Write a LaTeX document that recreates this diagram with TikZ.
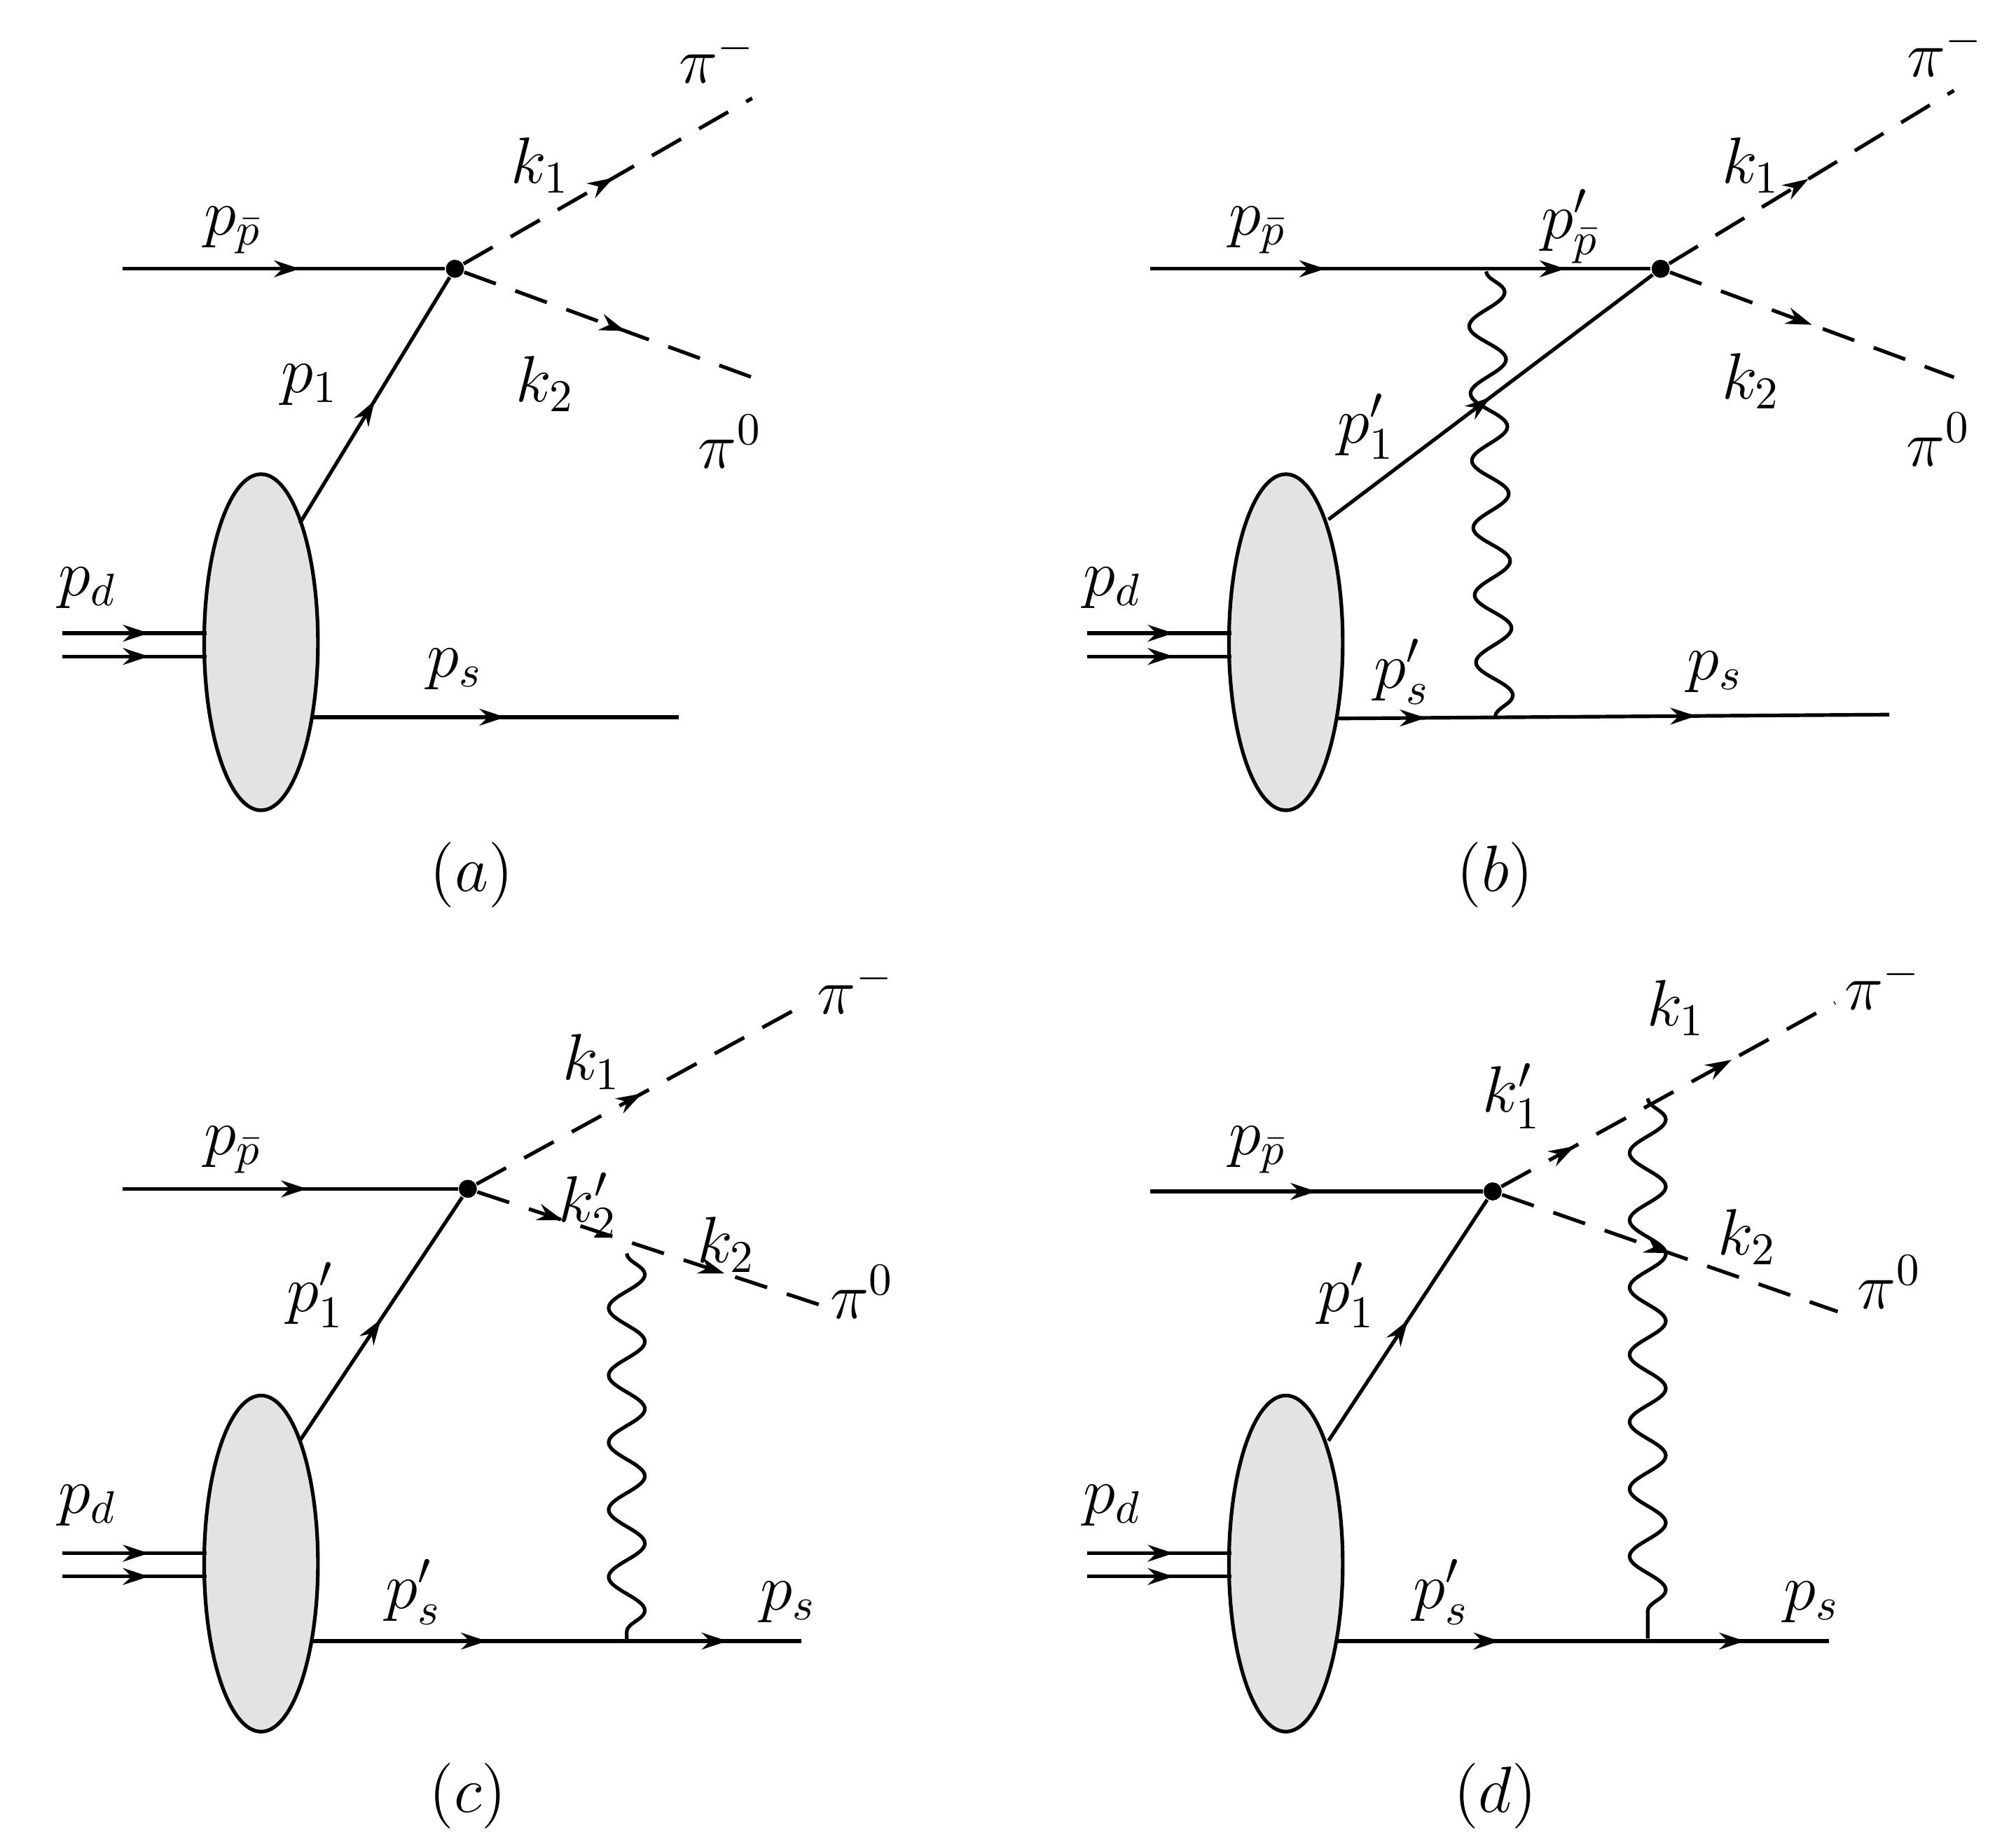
\documentclass[tikz,border=0pt]{standalone}
\usepackage{amsmath}
\usetikzlibrary{arrows.meta,decorations.markings,decorations.pathmorphing,shapes.geometric}
\tikzset{
  prop/.style={thick},
  scal/.style={thick, dash pattern=on 0.26cm off 0.16cm},
  phot/.style={thick, decorate, decoration={snake, amplitude=0.14cm, segment length=0.52cm}},
  blob/.style={draw, thick, ellipse, fill=gray!22, minimum width=0.88cm, minimum height=2.6cm, inner sep=0pt},
  vtx/.style={circle, fill=black, inner sep=0pt, minimum size=0.14cm},
  lbl/.style={font=\fontsize{14}{16}\selectfont},
  ar/.style={postaction={decorate}, decoration={markings, mark=at position #1 with {\arrow{Stealth[length=0.2cm,width=0.13cm]}}}},
  arr/.style 2 args={postaction={decorate}, decoration={markings,
      mark=at position #1 with {\arrow{Stealth[length=0.2cm,width=0.13cm]}},
      mark=at position #2 with {\arrow{Stealth[length=0.2cm,width=0.13cm]}}}},
}
\begin{document}
\begin{tikzpicture}[x=0.01cm, y=-0.01cm]
  \useasboundingbox (0,0) rectangle (1560,1429);

  % (a)
  \node[blob] (blobA) at (202,497) {};
  \coordinate (inA) at (95,208);
  \node[vtx] (vA) at (352,208) {};
  \coordinate (piMA) at (582,76);
  \coordinate (piZA) at (582,292);
  \coordinate (oA) at (232,405);
  \coordinate (dA1) at (48,490); \coordinate (eA1) at (160,490);
  \coordinate (dA2) at (48,508); \coordinate (eA2) at (160,508);
  \coordinate (sA) at (240,555); \coordinate (fA) at (525,555);
  \draw[prop, ar=0.55] (inA) -- (vA);
  \draw[scal, ar=0.52] (vA) -- (piMA);
  \draw[scal, ar=0.56] (vA) -- (piZA);
  \draw[prop, ar=0.5] (oA) -- (vA);
  \draw[prop, ar=0.6] (dA1) -- (eA1);
  \draw[prop, ar=0.6] (dA2) -- (eA2);
  \draw[prop, ar=0.53] (sA) -- (fA);
  \node[lbl] at (180,178) {$p_{\bar p}$};
  \node[lbl] at (418,128) {$k_1$};
  \node[lbl] at (555,45) {$\pi^-$};
  \node[lbl] at (422,297) {$k_2$};
  \node[lbl] at (565,342) {$\pi^0$};
  \node[lbl] at (240,298) {$p_1$};
  \node[lbl] at (68,455) {$p_d$};
  \node[lbl] at (352,518) {$p_s$};
  \node[lbl] at (365,677) {$(a)$};

  % (b)
  \node[blob] (blobB) at (995,497) {};
  \coordinate (inB) at (890,208);
  \node[vtx] (vB) at (1285,208) {};
  \coordinate (piMB) at (1512,70);
  \coordinate (piZB) at (1512,292);
  \coordinate (oB) at (1028,402);
  \coordinate (dB1) at (841,490); \coordinate (eB1) at (953,490);
  \coordinate (dB2) at (841,508); \coordinate (eB2) at (953,508);
  \coordinate (sB) at (1035,556); \coordinate (fB) at (1462,553);
  \coordinate (wB1) at (1150,210); \coordinate (wB2) at (1157,555);
  \draw[prop, arr={0.35}{0.83}] (inB) -- (vB);
  \draw[scal, ar=0.49] (vB) -- (piMB);
  \draw[scal, ar=0.5] (vB) -- (piZB);
  \draw[prop, ar=0.5] (oB) -- (vB);
  \draw[prop, ar=0.6] (dB1) -- (eB1);
  \draw[prop, ar=0.6] (dB2) -- (eB2);
  \draw[prop, arr={0.16}{0.65}] (sB) -- (fB);
  \draw[phot] (wB1) -- (wB2);
  \node[lbl] at (973,178) {$p_{\bar p}$};
  \node[lbl] at (1215,175) {$p'_{\bar p}$};
  \node[lbl] at (1355,128) {$k_1$};
  \node[lbl] at (1505,40) {$\pi^-$};
  \node[lbl] at (1355,295) {$k_2$};
  \node[lbl] at (1500,340) {$\pi^0$};
  \node[lbl] at (1057,330) {$p'_1$};
  \node[lbl] at (861,455) {$p_d$};
  \node[lbl] at (1085,520) {$p'_s$};
  \node[lbl] at (1327,520) {$p_s$};
  \node[lbl] at (1157,677) {$(b)$};

  % (c)
  \node[blob] (blobC) at (202,1210) {};
  \coordinate (inC) at (95,920);
  \node[vtx] (vC) at (362,920) {};
  \coordinate (piMC) at (625,776);
  \coordinate (piZC) at (635,1010);
  \coordinate (oC) at (232,1115);
  \coordinate (dC1) at (48,1202); \coordinate (eC1) at (160,1202);
  \coordinate (dC2) at (48,1220); \coordinate (eC2) at (160,1220);
  \coordinate (sC) at (240,1270); \coordinate (fC) at (620,1270);
  \coordinate (wC1) at (485,970); \coordinate (wC2) at (485,1270);
  \draw[prop, ar=0.55] (inC) -- (vC);
  \draw[scal, ar=0.5] (vC) -- (piMC);
  \draw[scal, arr={0.25}{0.72}] (vC) -- (piZC);
  \draw[prop, ar=0.5] (oC) -- (vC);
  \draw[prop, ar=0.6] (dC1) -- (eC1);
  \draw[prop, ar=0.6] (dC2) -- (eC2);
  \draw[prop, arr={0.36}{0.85}] (sC) -- (fC);
  \draw[phot] (wC1) -- (wC2);
  \node[lbl] at (180,890) {$p_{\bar p}$};
  \node[lbl] at (458,822) {$k_1$};
  \node[lbl] at (662,765) {$\pi^-$};
  \node[lbl] at (455,933) {$k'_2$};
  \node[lbl] at (562,963) {$k_2$};
  \node[lbl] at (667,1000) {$\pi^0$};
  \node[lbl] at (244,1002) {$p'_1$};
  \node[lbl] at (68,1165) {$p_d$};
  \node[lbl] at (320,1232) {$p'_s$};
  \node[lbl] at (610,1240) {$p_s$};
  \node[lbl] at (362,1390) {$(c)$};

  % (d)
  \node[blob] (blobD) at (995,1210) {};
  \coordinate (inD) at (890,922);
  \node[vtx] (vD) at (1155,922) {};
  \coordinate (piMD) at (1420,776);
  \coordinate (piZD) at (1422,1015);
  \coordinate (oD) at (1028,1115);
  \coordinate (dD1) at (841,1202); \coordinate (eD1) at (953,1202);
  \coordinate (dD2) at (841,1220); \coordinate (eD2) at (953,1220);
  \coordinate (sD) at (1035,1270); \coordinate (fD) at (1415,1270);
  \coordinate (wD1) at (1275,850); \coordinate (wD2) at (1275,1268);
  \draw[prop, ar=0.5] (inD) -- (vD);
  \draw[scal, arr={0.22}{0.69}] (vD) -- (piMD);
  \draw[scal, ar=0.5] (vD) -- (piZD);
  \draw[prop, ar=0.5] (oD) -- (vD);
  \draw[prop, ar=0.6] (dD1) -- (eD1);
  \draw[prop, ar=0.6] (dD2) -- (eD2);
  \draw[prop, arr={0.33}{0.83}] (sD) -- (fD);
  \draw[phot] (wD1) -- (wD2);
  \node[lbl] at (973,890) {$p_{\bar p}$};
  \node[lbl] at (1170,848) {$k'_1$};
  \node[lbl] at (1297,780) {$k_1$};
  \node[lbl] at (1457,762) {$\pi^-$};
  \node[lbl] at (1352,957) {$k_2$};
  \node[lbl] at (1462,992) {$\pi^0$};
  \node[lbl] at (1042,1002) {$p'_1$};
  \node[lbl] at (861,1165) {$p_d$};
  \node[lbl] at (1115,1232) {$p'_s$};
  \node[lbl] at (1402,1240) {$p_s$};
  \node[lbl] at (1157,1390) {$(d)$};
\end{tikzpicture}
\end{document}
